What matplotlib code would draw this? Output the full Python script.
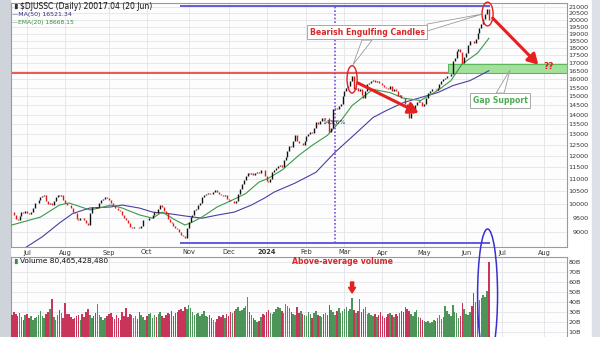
import numpy as np
import pandas as pd
import matplotlib
matplotlib.use("Agg")
import matplotlib.pyplot as plt
from matplotlib.patches import Ellipse, Polygon, Rectangle
from matplotlib.ticker import FixedLocator, NullLocator, FuncFormatter

# daily closes $DJUSSC, 21 Jun 2023 .. 20 Jun 2024
closes = [
    9700, 9600, 9450, 9420, 9550, 9700, 9680, 9750, 9650, 9620,
    9700, 9850, 10030, 10050, 10150, 10260, 10300, 10340, 10100, 10000,
    10050, 9980, 10100, 10250, 10340, 10300, 10350, 10150, 10050, 9980,
    9950, 9850, 9700, 9650, 9450, 9420, 9500, 9480, 9400, 9300,
    9240, 9650, 9890, 9870, 9850, 9900, 10050, 10150, 10200, 10260,
    10230, 10150, 10050, 9950, 9850, 9850, 9780, 9750, 9600, 9480,
    9400, 9300, 9180, 9140, 9160, 9180, 9170, 9140, 9200, 9420,
    9430, 9400, 9480, 9500, 9600, 9700, 9680, 9800, 9950, 9900,
    9750, 9650, 9450, 9350, 9300, 9200, 9140, 9100, 9000, 8900,
    8850, 8800, 9140, 9350, 9520, 9600, 9780, 9800, 9950, 10050,
    10250, 10340, 10380, 10420, 10400, 10380, 10450, 10540, 10450, 10380,
    10350, 10300, 10340, 10200, 10150, 10100, 10120, 10050, 10100, 10400,
    10600, 10800, 10950, 11100, 11230, 11200, 11250, 11150, 11250, 11300,
    11250, 11357, 11350, 11100, 10900, 10860, 11000, 11300, 11357, 11450,
    11550, 11600, 11500, 11800, 11950, 12200, 12450, 12400, 12700, 12950,
    12700, 12560, 12600, 12500, 12700, 12900, 13000, 13100, 13050, 13300,
    13600, 13500, 13650, 13800, 13750, 13850, 13800, 13100, 13300, 14300,
    14380, 14300, 14490, 14600, 15044, 15300, 15500, 15600, 15900, 16200,
    15450, 15500, 15330, 15400, 15100, 14930, 15300, 15700, 15800, 15900,
    15950, 15850, 15914, 15800, 15770, 15650, 15550, 15500, 15450, 15600,
    15330, 15400, 15300, 15040, 15100, 14930, 14900, 14600, 14220, 13800,
    14100, 14220, 14500, 14700, 14765, 14700, 14490, 14600, 14900, 15200,
    15330, 15400, 15420, 15350, 15500, 15700, 15900, 16030, 16100, 16200,
    16215, 16300, 17150, 17300, 17800, 17900, 17700, 17000, 17400, 17650,
    18200, 18490, 18450, 18350, 18600, 19050, 19400, 19700, 20100, 20450,
    20880, 20017.04,
]

# daily volume, billions
volumes = [
    27, 30, 28, 26, 29, 25, 22, 27, 28, 24,
    26, 22, 24, 25, 27, 31, 26, 24, 28, 30,
    33, 43, 25, 22, 27, 32, 29, 24, 39, 28,
    28, 25, 23, 24, 26, 27, 22, 28, 25, 30,
    33, 27, 24, 26, 29, 38, 27, 25, 22, 24,
    26, 28, 29, 25, 23, 27, 24, 22, 30, 26,
    34, 25, 28, 27, 24, 26, 23, 30, 27, 25,
    22, 26, 28, 29, 24, 27, 25, 28, 30, 26,
    24, 27, 29, 28, 31, 26, 29, 30, 32, 33,
    31, 35, 33, 37, 34, 30, 27, 28, 29, 26,
    28, 31, 26, 25, 27, 24, 22, 20, 23, 26,
    25, 27, 24, 28, 26, 30, 29, 31, 33, 35,
    31, 32, 34, 36, 45, 30, 27, 24, 22, 20,
    21, 25, 28, 27, 30, 32, 29, 28, 30, 33,
    35, 34, 31, 29, 38, 36, 34, 30, 28, 27,
    35, 29, 31, 28, 27, 26, 30, 28, 24, 29,
    31, 27, 26, 25, 28, 29, 27, 37, 32, 30,
    27, 31, 34, 29, 31, 33, 35, 31, 33, 44,
    32, 29, 31, 43, 30, 33, 35, 28, 29, 27,
    26, 28, 25, 27, 30, 26, 24, 25, 28, 29,
    27, 25, 28, 26, 29, 31, 30, 35, 33, 31,
    28, 26, 30, 32, 25, 24, 22, 21, 20, 21,
    19, 20, 22, 21, 24, 27, 23, 25, 36, 31,
    28, 26, 37, 30, 29, 24, 26, 39, 33, 28,
    27, 30, 36, 49, 40, 51, 42, 44, 47, 45,
    51, 80.47,
]

# moving averages (trading day number, value)
ma50_day = [0, 8, 16, 25, 32, 41, 52, 58, 67, 74, 82, 91, 100, 108, 117, 126, 133,
            138, 149, 160, 170, 181, 190, 197, 206, 215, 224, 232, 241, 251]
ma50_val = [8230, 8520, 8840, 9310, 9650, 9850, 9890, 9960, 9850, 9700, 9650, 9560,
            9480, 9590, 9700, 9960, 10230, 10460, 10820, 11270, 12150, 13050, 13850,
            14220, 14650, 14930, 15210, 15620, 15914, 16521.34]
ema20_day = [0, 15, 25, 30, 41, 46, 52, 58, 67, 74, 79, 86, 91, 94, 100, 108, 116, 123,
             130, 135, 142, 151, 158, 166, 174, 179, 184, 190, 199, 206, 215, 224, 231,
             237, 245, 251]
ema20_val = [9240, 9520, 9960, 10040, 9780, 9850, 9960, 9850, 9600, 9480, 9700, 9415,
             9240, 9310, 9520, 9890, 10150, 10400, 10860, 11020, 11357, 12014, 12473,
             12950, 13800, 14490, 14900, 15400, 15210, 14900, 14765, 15330, 15914,
             16960, 17650, 18668.15]

price_ticks = list(range(9000, 21001, 500))
vol_ticks = [10, 20, 30, 40, 50, 60, 70, 80]

support = 16400
gap_top = 16950
high_price = 21050
low_price = 8640

holidays = ["2023-07-04", "2023-09-04", "2023-11-23", "2023-12-25", "2024-01-01",
            "2024-01-15", "2024-02-19", "2024-03-29", "2024-05-27", "2024-06-19",
            "2024-07-04"]
days = pd.bdate_range("2023-06-21", "2024-08-30")
days = days[~days.isin(pd.to_datetime(holidays))]

closes = np.array(closes, dtype=float)
volumes = np.array(volumes, dtype=float)
n = len(closes)
idx = np.arange(n)
opens = np.r_[closes[0], closes[:-1]]
up = closes > opens

# first trading day of each month
pos = pd.Series(np.arange(len(days)), index=days)
firsts = pos.groupby([days.year, days.month]).first()
month_pos, month_lab = [], []
for (yr, mo), p in firsts.items():
    if (yr, mo) == (2023, 6):
        continue
    month_pos.append(p)
    month_lab.append("2024" if (yr, mo) == (2024, 1) else pd.Timestamp(yr, mo, 1).strftime("%b"))

fig = plt.figure(figsize=(6, 3.37), dpi=100)
fig.patch.set_facecolor("white")
fig.add_artist(Rectangle((0, 0), 10 / 600, 1, transform=fig.transFigure, color="#cfd3da", zorder=-5))
fig.add_artist(Rectangle((592 / 600, 0), 8 / 600, 1, transform=fig.transFigure, color="#dde1e7", zorder=-5))

ax = fig.add_axes([11 / 600, 1 - 247 / 337, 556 / 600, 244 / 337])
axv = fig.add_axes([11 / 600, 1 - 342 / 337, 556 / 600, 85 / 337])

xlim = (-0.5, 292.1)
grid_c = "#e2e4e8"
for a in (ax, axv):
    a.set_facecolor("#fdfdfe")
    a.set_xlim(*xlim)
    for s in a.spines.values():
        s.set_color("#9a9a9a")
        s.set_linewidth(0.8)
    a.set_axisbelow(True)
    a.xaxis.set_major_locator(FixedLocator(month_pos))
    a.yaxis.tick_right()
    a.grid(True, color=grid_c, lw=0.6)

# price panel
ax.set_yscale("log")
ax.set_ylim(8505, 21320)
ax.yaxis.set_major_locator(FixedLocator(price_ticks))
ax.yaxis.set_major_formatter(FuncFormatter(lambda v, p: f"{v:.0f}"))
ax.yaxis.set_minor_locator(NullLocator())
ax.tick_params(axis="y", which="both", length=0, labelsize=4.6, colors="#333333", pad=15.5)
plt.setp(ax.get_yticklabels(), ha="right")
ax.set_xticks(month_pos)
ax.set_xticklabels(month_lab)
ax.tick_params(axis="x", length=0, labelsize=4.8, colors="#333333", pad=1.8)
for t in ax.get_xticklabels():
    if t.get_text() == "2024":
        t.set_fontweight("bold")

ax.axhline(support, color="#e22a2a", lw=1.1, zorder=2)
ax.fill_between([229.5, 300], support, gap_top, facecolor="#a3e09c", edgecolor="#5cb85c", lw=0.8, zorder=2)

ax.plot(ma50_day, ma50_val, color="#4a3f9f", lw=0.8, zorder=3)
ax.plot(ema20_day, ema20_val, color="#3a9a48", lw=0.8, zorder=3)

ax.vlines(idx[up], opens[up], closes[up], color="#111111", lw=1.0, zorder=4)
ax.vlines(idx[~up], closes[~up], opens[~up], color="#e01818", lw=1.0, zorder=4)

ax.hlines([high_price, low_price], 88.4, 251.6, color="#3a2fd0", lw=1.1, zorder=3)
ax.vlines(170, low_price, high_price, colors="#7a4fd8", linestyles=(0, (1, 1.2)), lw=1.2, zorder=3)
ax.text(169.5, 13570, "143.6%", fontsize=4.4, ha="center", va="center", color="#222222", zorder=5)

# callouts
ax.add_patch(Polygon([(218.4, 19690), (218.4, 19180), (247.4, 20445)], closed=True,
                     fc="white", ec="#9a9a9a", lw=0.6, zorder=5))
ax.add_patch(Polygon([(184.2, 18538), (189.5, 18538), (179.5, 16900)], closed=True,
                     fc="white", ec="#9a9a9a", lw=0.6, zorder=5))
ax.add_patch(Polygon([(254.8, 15187), (259, 15187), (262.1, 16560)], closed=True,
                     fc="white", ec="#9a9a9a", lw=0.6, zorder=5))
box = dict(boxstyle="square,pad=0.35", fc="white", ec="#a8a8a8", lw=0.7)
ax.text(186.9, 19107, "Bearish Engulfing Candles", fontsize=5.6, fontweight="bold",
        color="#d42a2a", ha="center", va="center", bbox=box, zorder=6)
ax.text(256.9, 14765, "Gap Support", fontsize=5.6, fontweight="bold",
        color="#4caf50", ha="center", va="center", bbox=box, zorder=6)

ax.add_patch(Ellipse((179, 16011), 5.3, 1648, fill=False, ec="#e02020", lw=1.0, zorder=6))
ax.add_patch(Ellipse((250.3, 20474), 5.8, 1832, fill=False, ec="#e02020", lw=1.0, zorder=6, clip_on=False))

arrow = dict(arrowstyle="-|>,head_width=0.35,head_length=0.6", lw=2.2, color="#e52020",
             mutation_scale=10, shrinkA=0, shrinkB=0)
ax.annotate("", xy=(214, 14090), xytext=(182, 15780), arrowprops=arrow, zorder=7)
ax.annotate("", xy=(277, 16900), xytext=(253, 20140), arrowprops=arrow, zorder=7)
ax.text(279.5, 16810, "??", color="#e02020", fontsize=6.5, fontweight="bold", va="center", zorder=7)

# legend lines, top left
ax.annotate("\u2590\u258c", xy=(0, 1), xycoords="axes fraction",
            xytext=(0.8, -2.3), textcoords="offset points", fontsize=3.6, va="center", color="#333333")
ax.annotate(r"\$DJUSSC (Daily) 20017.04 (20 Jun)", xy=(0, 1), xycoords="axes fraction",
            xytext=(6.3, -2.3), textcoords="offset points", fontsize=5.5, va="center", color="#111111")
ax.annotate("—MA(50) 16521.34", xy=(0, 1), xycoords="axes fraction",
            xytext=(1.0, -8.0), textcoords="offset points", fontsize=4.5, va="center", color="#2f2f7f")
ax.annotate("—EMA(20) 18668.15", xy=(0, 1), xycoords="axes fraction",
            xytext=(1.0, -13.7), textcoords="offset points", fontsize=4.3, va="center", color="#2f8f3a")

# volume panel
axv.set_ylim(0, 85)
axv.yaxis.set_major_locator(FixedLocator(vol_ticks))
axv.yaxis.set_major_formatter(FuncFormatter(lambda v, p: f"{v:.0f}B"))
axv.tick_params(axis="y", length=0, labelsize=4.6, colors="#333333", pad=1.0)
axv.tick_params(axis="x", length=0, labelbottom=False)
vcol = np.where(up, "#4c9458", "#c8345a")
axv.bar(idx, volumes, width=0.8, color=vcol, zorder=3)

axv.annotate("\u2590\u258c", xy=(0, 1), xycoords="axes fraction",
             xytext=(0.8, -3.0), textcoords="offset points", fontsize=3.6, va="center", color="#3a8a4a")
axv.annotate("Volume 80,465,428,480", xy=(0, 1), xycoords="axes fraction",
             xytext=(6.5, -3.0), textcoords="offset points", fontsize=5.3, va="center", color="#111111")
axv.text(147.4, 80.5, "Above-average volume", fontsize=5.6, fontweight="bold",
         color="#d42a2a", va="center", zorder=6)
axv.annotate("", xy=(179, 49), xytext=(179, 60),
             arrowprops=dict(arrowstyle="simple,head_width=1.0,head_length=0.8,tail_width=0.45",
                             color="#e52020", mutation_scale=5, shrinkA=0, shrinkB=0), zorder=6)
axv.add_patch(Ellipse((250.3, 47), 10.5, 132, fill=False, ec="#3a2fd0", lw=1.1, zorder=10, clip_on=False))

fig.savefig("out.png", dpi=100)
